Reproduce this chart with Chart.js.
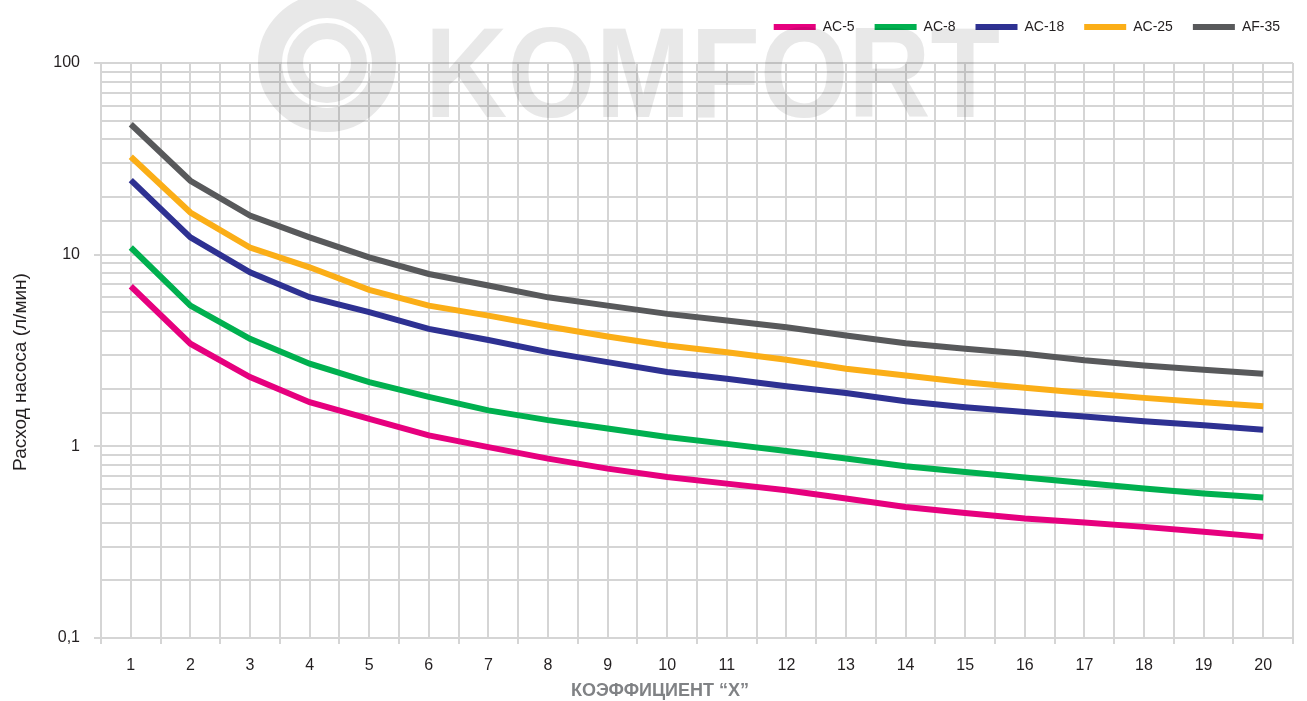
<!DOCTYPE html>
<html>
<head>
<meta charset="utf-8">
<script src="https://cdn.jsdelivr.net/npm/chart.js@4/dist/chart.umd.min.js"></script>
<style>
html,body{margin:0;padding:0;background:#fff;}
#wrap{width:1307px;height:701px;position:relative;}
</style>
</head>
<body>
<div id="wrap"><canvas id="c" width="1307" height="701"></canvas></div>
<script>
// ---- data ----
const xValues = [1,2,3,4,5,6,7,8,9,10,11,12,13,14,15,16,17,18,19,20];
const seriesNames = ['AC-5','AC-8','AC-18','AC-25','AF-35'];
const ac5  = [6.84,3.43,2.30,1.70,1.39,1.14,0.99,0.863,0.765,0.692,0.639,0.590,0.534,0.483,0.449,0.420,0.400,0.380,0.358,0.337];
const ac8  = [10.9,5.42,3.64,2.70,2.16,1.81,1.54,1.37,1.24,1.12,1.03,0.945,0.863,0.787,0.735,0.687,0.643,0.602,0.567,0.541];
const ac18 = [24.5,12.3,8.09,6.00,5.01,4.10,3.59,3.10,2.75,2.44,2.25,2.06,1.90,1.72,1.60,1.51,1.43,1.35,1.29,1.22];
const ac25 = [32.4,16.6,10.9,8.59,6.55,5.42,4.81,4.22,3.74,3.36,3.10,2.83,2.54,2.34,2.16,2.02,1.90,1.79,1.70,1.62];
const af35 = [47.9,24.3,16.0,12.3,9.68,7.93,6.90,5.99,5.42,4.91,4.53,4.18,3.79,3.45,3.23,3.04,2.81,2.64,2.51,2.39];
const yTickLabels = {0.1:'0,1', 1:'1', 10:'10', 100:'100'};
const xTitle = 'КОЭФФИЦИЕНТ “X”';
const yTitle = 'Расход насоса (л/мин)';
const watermarkText = 'KOMFORT';

const colors = ['#e6007e','#00b04f','#2e3192','#fbae17','#58595b'];
const seriesValues = [ac5, ac8, ac18, ac25, af35];
const GRID = '#d5d5d5';

const datasets = seriesNames.map((n,i)=>({
  label: n,
  data: xValues.map((x,j)=>({x:x, y:seriesValues[i][j]})),
  borderColor: colors[i],
  backgroundColor: colors[i],
  borderWidth: 6,
  pointRadius: 0,
  tension: 0,
  borderJoinStyle: 'miter',
  borderCapStyle: 'butt',
  order: 5 - i
}));

const bgPlugin = {
  id:'bg',
  beforeDraw(chart){
    const c = chart.ctx;
    c.save(); c.fillStyle='#fff'; c.fillRect(0,0,chart.width,chart.height); c.restore();
  }
};

// give the legend extra room below it and shift it to the right
const legendTweak = {
  id:'legendTweak',
  beforeLayout(chart){
    const lg = chart.legend;
    if (lg && !lg._patched) {
      const orig = lg.fit;
      lg.fit = function(){ orig.call(this); this.height += 19; };
      lg._patched = true;
    }
  },
  afterLayout(chart){
    const lg = chart.legend;
    if (lg) { lg.left += 7; lg.right += 7; }
  }
};

const watermarkPlugin = {
  id:'wm',
  beforeDatasetsDraw(chart){
    const c = chart.ctx;
    c.save();
    c.globalCompositeOperation = 'multiply';
    c.strokeStyle = '#e8e8e8';
    c.fillStyle = '#e8e8e8';
    // circle logo
    c.lineWidth = 24;
    c.beginPath(); c.arc(327, 63, 57, 0, Math.PI*2); c.stroke();
    c.lineWidth = 16;
    c.beginPath(); c.arc(327, 63, 32, 0, Math.PI*2); c.stroke();
    // text
    c.font = 'bold 128px "Liberation Sans", Arial, sans-serif';
    c.textBaseline = 'alphabetic';
    c.textAlign = 'left';
    c.fillText(watermarkText, 425, 117, 575);
    c.restore();
  }
};

const titlesPlugin = {
  id:'titles',
  afterDraw(chart){
    const c = chart.ctx;
    c.save();
    c.fillStyle = '#808285';
    c.font = 'bold 18px "Liberation Sans", Arial, sans-serif';
    c.textAlign = 'center';
    c.textBaseline = 'middle';
    c.fillText(xTitle, 660, 691);
    c.translate(21, 372);
    c.rotate(-Math.PI/2);
    c.fillStyle = '#231f20';
    c.font = '19px "Liberation Sans", Arial, sans-serif';
    c.fillText(yTitle, 0, 0);
    c.restore();
  }
};

new Chart(document.getElementById('c'), {
  type:'line',
  data:{ datasets },
  plugins:[bgPlugin, legendTweak, watermarkPlugin, titlesPlugin],
  options:{
    responsive:false,
    animation:false,
    devicePixelRatio:1,
    layout:{ padding:{ left:0, right:14, top:0, bottom:0 } },
    plugins:{
      tooltip:{enabled:false},
      legend:{
        position:'top',
        align:'end',
        labels:{
          boxWidth:42,
          boxHeight:6,
          padding:20,
          color:'#231f20',
          font:{ family:'"Liberation Sans Narrow", "Liberation Sans", Arial, sans-serif', size:14 },
          generateLabels(chart){
            const items = Chart.defaults.plugins.legend.labels.generateLabels(chart);
            items.forEach(it=>{ it.lineWidth = 0; it.strokeStyle = 'rgba(0,0,0,0)'; });
            return items;
          },
          sort:(a,b)=>a.datasetIndex-b.datasetIndex
        }
      }
    },
    scales:{
      x:{
        type:'linear',
        min:0.5, max:20.5,
        afterFit(s){ s.height = 63; },
        border:{ display:false },
        grid:{
          color:GRID, lineWidth:2, drawTicks:true, tickLength:6,
          tickColor:(ctx)=> (ctx.tick && Number.isInteger(ctx.tick.value)) ? 'rgba(0,0,0,0)' : GRID
        },
        ticks:{
          stepSize:0.5, autoSkip:false, maxRotation:0, maxTicksLimit:100,
          padding:12,
          color:'#231f20',
          font:{ family:'"Liberation Sans", Arial, sans-serif', size:16 },
          callback:(v)=> Number.isInteger(v) ? String(v) : ''
        }
      },
      y:{
        type:'logarithmic',
        min:0.1, max:100,
        afterFit(s){ s.width = 101; },
        border:{ display:false },
        grid:{
          color:GRID, lineWidth:2, drawTicks:true, tickLength:7,
          tickColor:(ctx)=> (ctx.tick && yTickLabels[ctx.tick.value] !== undefined) ? GRID : 'rgba(0,0,0,0)'
        },
        ticks:{
          autoSkip:false,
          padding:14,
          color:'#231f20',
          font:{ family:'"Liberation Sans", Arial, sans-serif', size:16 },
          callback:(v)=> yTickLabels[v] !== undefined ? yTickLabels[v] : ''
        }
      }
    }
  }
});
</script>
</body>
</html>
